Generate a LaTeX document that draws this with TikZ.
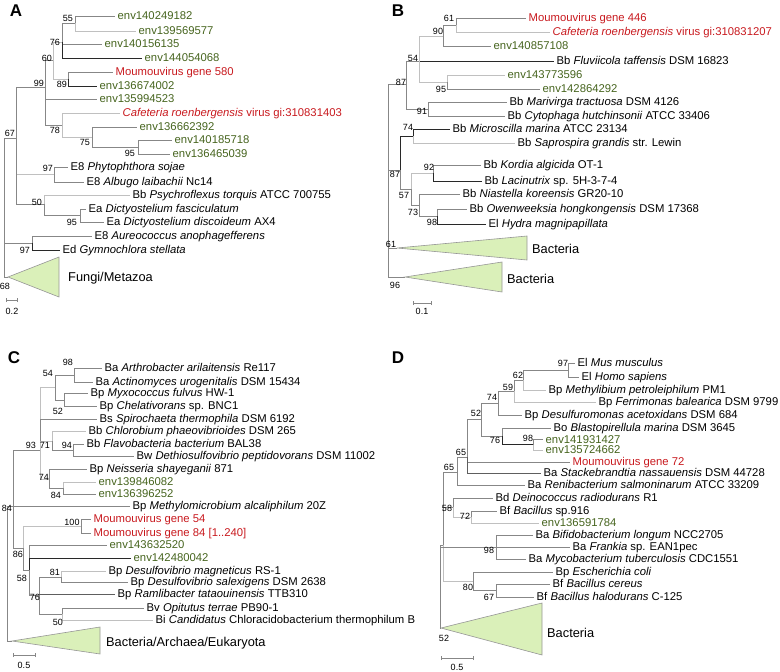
\documentclass[tikz,border=0pt]{standalone}
\usepackage{fontspec}
\setmainfont{Liberation Sans}
\definecolor{brgray}{RGB}{135,135,135}
\definecolor{brlight}{RGB}{192,192,192}
\definecolor{brdark}{RGB}{40,40,40}
\definecolor{envgreen}{RGB}{70,100,30}
\definecolor{virred}{RGB}{200,25,30}
\definecolor{cladegreen}{RGB}{218,240,185}
\definecolor{cladeedge}{RGB}{150,150,150}
\begin{document}
\begin{tikzpicture}[x=1pt,y=-1pt,
 br/.style={draw=brgray, line width=0.8pt},
 brl/.style={draw=brlight, line width=0.8pt},
 brd/.style={draw=brdark, line width=0.8pt},
 brm/.style={draw=brgray!70!black, line width=0.8pt},
 leaf/.style={anchor=west, inner xsep=2.5pt, inner ysep=0pt, text height=7.6pt, text depth=0pt, font=\fontsize{11.3}{13}\selectfont, text=black},
 envleaf/.style={leaf, text=envgreen},
 virleaf/.style={leaf, text=virred},
 bsl/.style={inner sep=0pt, text height=6.5pt, text depth=0pt, font=\fontsize{9}{10}\selectfont},
 clade/.style={fill=cladegreen, draw=cladeedge, line width=0.6pt},
 cladelbl/.style={anchor=west, inner sep=0pt, text height=9pt, text depth=0pt, font=\fontsize{12.8}{14}\selectfont},
 panel/.style={font=\fontsize{17}{20}\selectfont\bfseries, inner sep=0pt},
 scalebar/.style={draw=brgray, line width=0.7pt}]
\path[use as bounding box] (0,0) rectangle (780,672);

%================ PANEL A ================
\node[panel] (PA) at (16,11) {A};
\coordinate (A55) at (75,23);
\coordinate (A76) at (62,42);
\coordinate (A89) at (68,79);
\coordinate (A60) at (53,60);
\coordinate (A95c) at (138,147);
\coordinate (A75) at (92,137);
\coordinate (A78) at (62,125);
\coordinate (A99) at (45,87);
\coordinate (A97a) at (54,174);
\coordinate (A95b) at (80,215);
\coordinate (A50) at (44,204);
\coordinate (A67) at (16,138);
\coordinate (A97b) at (32,243);
\coordinate (Aroot) at (4,200);
\coordinate (Aap) at (8,277);
\coordinate (Atr1) at (59,257);
\coordinate (Atr2) at (59,297);

\node[envleaf] (a1) at (115,16) {env140249182};
\node[envleaf] (a2) at (136,31) {env139569577};
\node[envleaf] (a3) at (102,44) {env140156135};
\node[envleaf] (a4) at (142,58) {env144054068};
\node[virleaf] (a5) at (113,72) {Moumouvirus gene 580};
\node[envleaf] (a6) at (97,86) {env136674002};
\node[envleaf] (a7) at (97,99) {env135994523};
\node[virleaf] (a8) at (120,113) {\textit{Cafeteria roenbergensis} virus gi:310831403};
\node[envleaf] (a9) at (137,127) {env136662392};
\node[envleaf] (a10) at (172,140) {env140185718};
\node[envleaf] (a11) at (170,154) {env136465039};
\node[leaf] (a12) at (68,167) {E8 \textit{Phytophthora sojae}};
\node[leaf] (a13) at (84,182) {E8 \textit{Albugo laibachii} Nc14};
\node[leaf] (a14) at (130,195) {Bb \textit{Psychroflexus torquis} ATCC 700755};
\node[leaf] (a15) at (86,209) {Ea \textit{Dictyostelium fasciculatum}};
\node[leaf] (a16) at (104,222) {Ea \textit{Dictyostelium discoideum} AX4};
\node[leaf] (a17) at (92,236) {E8 \textit{Aureococcus anophagefferens}};
\node[leaf] (a18) at (60,250) {Ed \textit{Gymnochlora stellata}};

\draw[br] (A55) |- (a1.west);
\draw[brl] (A55) |- (a2.west);
\draw[br] (A76) |- (A55);
\draw[br] (A76) |- (a3.west);
\draw[brd] (A76) |- (a4.west);
\draw[br] (A89) |- (a5.west);
\draw[brd] (A89) |- (a6.west);
\draw[brl] (A60) |- (A76);
\draw[brl] (A60) |- (A89);
\draw[br] (A99) |- (A60);
\draw[br] (A99) |- (a7.west);
\draw[br] (A99) |- (A78);
\draw[brl] (A78) |- (a8.west);
\draw[brl] (A78) |- (A75);
\draw[br] (A75) |- (a9.west);
\draw[br] (A75) |- (A95c);
\draw[br] (A95c) |- (a10.west);
\draw[br] (A95c) |- (a11.west);
\draw[br] (A67) |- (A99);
\draw[brl] (A67) |- (A97a);
\draw[br] (A67) |- (A50);
\draw[br] (A97a) |- (a12.west);
\draw[br] (A97a) |- (a13.west);
\draw[brl] (A50) |- (a14.west);
\draw[br] (A50) |- (A95b);
\draw[br] (A95b) |- (a15.west);
\draw[br] (A95b) |- (a16.west);
\draw[br] (A97b) |- (a17.west);
\draw[brd] (A97b) |- (a18.west);
\draw[br] (Aroot) |- (A67);
\draw[br] (Aroot) |- (A97b);
\draw[br] (Aroot) |- (Aap);
\draw[clade] (Aap) -- (Atr1) -- (Atr2) -- cycle;
\node[cladelbl] (Acl) at (68,277) {Fungi/Metazoa};

\node[bsl] (bA1) at (68,18) {55};
\node[bsl] (bA2) at (55,42) {76};
\node[bsl] (bA3) at (47,58) {60};
\node[bsl] (bA4) at (62,84) {89};
\node[bsl] (bA5) at (39,83) {99};
\node[bsl] (bA6) at (55,130) {78};
\node[bsl] (bA7) at (85,142) {75};
\node[bsl] (bA8) at (130,153) {95};
\node[bsl] (bA9) at (10,133) {67};
\node[bsl] (bA10) at (48,168) {97};
\node[bsl] (bA11) at (37,202) {50};
\node[bsl] (bA12) at (72,222) {95};
\node[bsl] (bA13) at (25,250) {97};
\node[bsl] (bA14) at (5,286) {68};

\coordinate (AsL) at (6,300);
\coordinate (AsR) at (17,300);
\draw[scalebar] ([yshift=-2pt]AsL) -- ([yshift=2pt]AsL) (AsL) -- (AsR) ([yshift=-2pt]AsR) -- ([yshift=2pt]AsR);
\node[bsl] (AsT) at (12,311) {0.2};

%================ PANEL B ================
\node[panel] (PB) at (398,11) {B};
\coordinate (B61) at (456,25);
\coordinate (B90) at (443,36);
\coordinate (B95) at (447,82);
\coordinate (B54) at (419,61);
\coordinate (B91) at (428,109);
\coordinate (B87a) at (406,84);
\coordinate (B74) at (413,136);
\coordinate (B92) at (433,173);
\coordinate (B98) at (437,216);
\coordinate (B73) at (419,205);
\coordinate (B57) at (411,189);
\coordinate (B87b) at (400,170);
\coordinate (Broot) at (388,180);
\coordinate (BapA) at (397,248);
\coordinate (BtA1) at (527,236);
\coordinate (BtA2) at (527,260);
\coordinate (BapB) at (405,277);
\coordinate (BtB1) at (502,262);
\coordinate (BtB2) at (502,292);

\node[virleaf] (b1) at (526,18) {Moumouvirus gene 446};
\node[virleaf] (b2) at (550,32) {\textit{Cafeteria roenbergensis} virus gi:310831207};
\node[envleaf] (b3) at (491,46) {env140857108};
\node[leaf] (b4) at (554,61) {Bb \textit{Fluviicola taffensis} DSM 16823};
\node[envleaf] (b5) at (505,75) {env143773596};
\node[envleaf] (b6) at (540,89) {env142864292};
\node[leaf] (b7) at (507,102) {Bb \textit{Marivirga tractuosa} DSM 4126};
\node[leaf] (b8) at (505,116) {Bb \textit{Cytophaga hutchinsonii} ATCC 33406};
\node[leaf] (b9) at (450,129) {Bb \textit{Microscilla marina} ATCC 23134};
\node[leaf] (b10) at (515,143) {Bb \textit{Saprospira grandis} str. Lewin};
\node[leaf] (b11) at (481,165) {Bb \textit{Kordia algicida} OT-1};
\node[leaf] (b12) at (482,181) {Bb \textit{Lacinutrix} sp. 5H-3-7-4};
\node[leaf] (b13) at (460,194) {Bb \textit{Niastella koreensis} GR20-10};
\node[leaf] (b14) at (467,209) {Bb \textit{Owenweeksia hongkongensis} DSM 17368};
\node[leaf] (b15) at (486,224) {El \textit{Hydra magnipapillata}};

\draw[br] (B61) |- (b1.west);
\draw[brl] (B61) |- (b2.west);
\draw[br] (B90) |- (B61);
\draw[br] (B90) |- (b3.west);
\draw[brl] (B54) |- (B90);
\draw[brd] (B54) |- (b4.west);
\draw[brl] (B54) |- (B95);
\draw[brl] (B95) |- (b5.west);
\draw[br] (B95) |- (b6.west);
\draw[br] (B87a) |- (B54);
\draw[br] (B87a) |- (B91);
\draw[br] (B91) |- (b7.west);
\draw[br] (B91) |- (b8.west);
\draw[brd] (B74) |- (b9.west);
\draw[brl] (B74) |- (b10.west);
\draw[br] (B92) |- (b11.west);
\draw[brd] (B92) |- (b12.west);
\draw[br] (B73) |- (b13.west);
\draw[br] (B73) |- (B98);
\draw[br] (B98) |- (b14.west);
\draw[brd] (B98) |- (b15.west);
\draw[brl] (B57) |- (B92);
\draw[br] (B57) |- (B73);
\draw[brd] (B87b) |- (B74);
\draw[br] (B87b) |- (B57);
\draw[br] (Broot) |- (B87a);
\draw[br] (Broot) |- (B87b);
\draw[br] (Broot) |- (BapA);
\draw[br] (Broot) |- (BapB);
\draw[clade] (BapA) -- (BtA1) -- (BtA2) -- cycle;
\draw[clade] (BapB) -- (BtB1) -- (BtB2) -- cycle;
\node[cladelbl] (Bcl1) at (532,249) {Bacteria};
\node[cladelbl] (Bcl2) at (507,279) {Bacteria};

\node[bsl] (bB1) at (449,18) {61};
\node[bsl] (bB2) at (438,31) {90};
\node[bsl] (bB3) at (413,58) {54};
\node[bsl] (bB4) at (441,89) {95};
\node[bsl] (bB5) at (401,82) {87};
\node[bsl] (bB6) at (422,111) {91};
\node[bsl] (bB7) at (408,127) {74};
\node[bsl] (bB8) at (429,167) {92};
\node[bsl] (bB9) at (395,174) {87};
\node[bsl] (bB10) at (404,195) {57};
\node[bsl] (bB11) at (413,212) {73};
\node[bsl] (bB12) at (432,222) {98};
\node[bsl] (bB13) at (391,244) {61};
\node[bsl] (bB14) at (395,285) {96};

\coordinate (BsL) at (413,303);
\coordinate (BsR) at (431,303);
\draw[scalebar] ([yshift=-2pt]BsL) -- ([yshift=2pt]BsL) (BsL) -- (BsR) ([yshift=-2pt]BsR) -- ([yshift=2pt]BsR);
\node[bsl] (BsT) at (422,311) {0.1};

%================ PANEL C ================
\node[panel] (PC) at (14,358) {C};
\coordinate (C98) at (74,375);
\coordinate (C52) at (64,400);
\coordinate (C54) at (55,387);
\coordinate (C94) at (73,450);
\coordinate (C71) at (52,441);
\coordinate (C84b) at (63,488);
\coordinate (C74) at (49,479);
\coordinate (C93) at (40,450);
\coordinate (C100) at (81,526);
\coordinate (C81) at (61,577);
\coordinate (C50) at (62,614);
\coordinate (C76) at (39,595);
\coordinate (C58) at (29,570);
\coordinate (C86) at (23,548);
\coordinate (C84) at (13,506);
\coordinate (Croot) at (7,560);
\coordinate (Cap) at (12,641);
\coordinate (Ctr1) at (100,627);
\coordinate (Ctr2) at (100,654);

\node[leaf] (c1) at (102,368) {Ba \textit{Arthrobacter arilaitensis} Re117};
\node[leaf] (c2) at (93,382) {Ba \textit{Actinomyces urogenitalis} DSM 15434};
\node[leaf] (c3) at (88,393) {Bp \textit{Myxococcus fulvus} HW-1};
\node[leaf] (c4) at (97,406) {Bp \textit{Chelativorans} sp. BNC1};
\node[leaf] (c5) at (97,419) {Bs \textit{Spirochaeta thermophila} DSM 6192};
\node[leaf] (c6) at (86,431) {Bb \textit{Chlorobium phaeovibrioides} DSM 265};
\node[leaf] (c7) at (84,444) {Bb \textit{Flavobacteria bacterium} BAL38};
\node[leaf] (c8) at (134,456) {Bw \textit{Dethiosulfovibrio peptidovorans} DSM 11002};
\node[leaf] (c9) at (87,469) {Bp \textit{Neisseria shayeganii} 871};
\node[envleaf] (c10) at (96,482) {env139846082};
\node[envleaf] (c11) at (96,494) {env136396252};
\node[leaf] (c12) at (130,506) {Bp \textit{Methylomicrobium alcaliphilum} 20Z};
\node[virleaf] (c13) at (91,519) {Moumouvirus gene 54};
\node[virleaf] (c14) at (91,533) {Moumouvirus gene 84 [1..240]};
\node[envleaf] (c15) at (107,545) {env143632520};
\node[envleaf] (c16) at (131,558) {env142480042};
\node[leaf] (c17) at (106,571) {Bp \textit{Desulfovibrio magneticus} RS-1};
\node[leaf] (c18) at (128,582) {Bp \textit{Desulfovibrio salexigens} DSM 2638};
\node[leaf] (c19) at (115,594) {Bp \textit{Ramlibacter tataouinensis} TTB310};
\node[leaf] (c20) at (144,608) {Bv \textit{Opitutus terrae} PB90-1};
\node[leaf] (c21) at (153,620) {Bi \textit{Candidatus} Chloracidobacterium thermophilum B};

\draw[br] (C98) |- (c1.west);
\draw[br] (C98) |- (c2.west);
\draw[br] (C52) |- (c3.west);
\draw[br] (C52) |- (c4.west);
\draw[br] (C54) |- (C98);
\draw[br] (C54) |- (C52);
\draw[brl] (C93) |- (C54);
\draw[br] (C93) |- (c5.west);
\draw[brl] (C93) |- (C71);
\draw[brl] (C93) |- (C74);
\draw[brl] (C71) |- (c6.west);
\draw[br] (C71) |- (C94);
\draw[br] (C94) |- (c7.west);
\draw[br] (C94) |- (c8.west);
\draw[br] (C74) |- (c9.west);
\draw[br] (C74) |- (C84b);
\draw[brl] (C84b) |- (c10.west);
\draw[br] (C84b) |- (c11.west);
\draw[br] (C84) |- (C93);
\draw[br] (C84) |- (c12.west);
\draw[br] (C84) |- (C86);
\draw[br] (C100) |- (c13.west);
\draw[br] (C100) |- (c14.west);
\draw[brl] (C86) |- (C100);
\draw[br] (C86) |- (C58);
\draw[br] (C58) |- (c15.west);
\draw[brd] (C58) |- (c16.west);
\draw[br] (C58) |- (C76);
\draw[brl] (C81) |- (c17.west);
\draw[br] (C81) |- (c18.west);
\draw[br] (C76) |- (C81);
\draw[brm] (C76) |- (c19.west);
\draw[br] (C76) |- (C50);
\draw[br] (C50) |- (c20.west);
\draw[brl] (C50) |- (c21.west);
\draw[br] (Croot) |- (C84);
\draw[br] (Croot) |- (Cap);
\draw[clade] (Cap) -- (Ctr1) -- (Ctr2) -- cycle;
\node[cladelbl] (Ccl) at (106,642) {Bacteria/Archaea/Eukaryota};

\node[bsl] (bC1) at (68,362) {98};
\node[bsl] (bC2) at (48,373) {54};
\node[bsl] (bC3) at (58,411) {52};
\node[bsl] (bC4) at (31,445) {93};
\node[bsl] (bC5) at (45,445) {71};
\node[bsl] (bC6) at (67,445) {94};
\node[bsl] (bC7) at (44,477) {74};
\node[bsl] (bC8) at (56,495) {84};
\node[bsl] (bC9) at (7,508) {84};
\node[bsl] (bC10) at (72,522) {100};
\node[bsl] (bC11) at (18,554) {86};
\node[bsl] (bC12) at (22,578) {58};
\node[bsl] (bC13) at (55,572) {81};
\node[bsl] (bC14) at (35,597) {76};
\node[bsl] (bC15) at (58,622) {50};

\coordinate (CsL) at (13,655);
\coordinate (CsR) at (35,655);
\draw[scalebar] ([yshift=-2pt]CsL) -- ([yshift=2pt]CsL) (CsL) -- (CsR) ([yshift=-2pt]CsR) -- ([yshift=2pt]CsR);
\node[bsl] (CsT) at (24,665) {0.5};

%================ PANEL D ================
\node[panel] (PD) at (398,358) {D};
\coordinate (D97) at (568,370);
\coordinate (D62) at (523,380);
\coordinate (D59) at (514,391);
\coordinate (D74) at (498,403);
\coordinate (D98) at (533,444.5);
\coordinate (D76) at (502,436);
\coordinate (D52) at (481,419);
\coordinate (D65a) at (467,457);
\coordinate (D65b) at (457,472);
\coordinate (D72) at (471,517);
\coordinate (D58) at (453,507);
\coordinate (D98b) at (496,547);
\coordinate (D67) at (496,590.5);
\coordinate (D80) at (473,581);
\coordinate (DX) at (443,545);
\coordinate (Droot) at (440,590);
\coordinate (Dap) at (441,628);
\coordinate (Dtr1) at (542,603);
\coordinate (Dtr2) at (542,655);

\node[leaf] (d1) at (575,363) {El \textit{Mus musculus}};
\node[leaf] (d2) at (579,377) {El \textit{Homo sapiens}};
\node[leaf] (d3) at (546,390) {Bp \textit{Methylibium petroleiphilum} PM1};
\node[leaf] (d4) at (596,402) {Bp \textit{Ferrimonas balearica} DSM 9799};
\node[leaf] (d5) at (522,415) {Bp \textit{Desulfuromonas acetoxidans} DSM 684};
\node[leaf] (d6) at (551,428) {Bo \textit{Blastopirellula marina} DSM 3645};
\node[envleaf] (d7) at (543,439.5) {env141931427};
\node[envleaf] (d8) at (543,450) {env135724662};
\node[virleaf] (d9) at (570,462) {Moumouvirus gene 72};
\node[leaf] (d10) at (541,473) {Ba \textit{Stackebrandtia nassauensis} DSM 44728};
\node[leaf] (d11) at (525,485) {Ba \textit{Renibacterium salmoninarum} ATCC 33209};
\node[leaf] (d12) at (493,498) {Bd \textit{Deinococcus radiodurans} R1};
\node[leaf] (d13) at (497,511) {Bf \textit{Bacillus} sp.916};
\node[envleaf] (d14) at (539,523) {env136591784};
\node[leaf] (d15) at (533,535) {Ba \textit{Bifidobacterium longum} NCC2705};
\node[leaf] (d16) at (570,547) {Ba \textit{Frankia} sp. EAN1pec};
\node[leaf] (d17) at (526,559) {Ba \textit{Mycobacterium tuberculosis} CDC1551};
\node[leaf] (d18) at (553,572) {Bp \textit{Escherichia coli}};
\node[leaf] (d19) at (550,584) {Bf \textit{Bacillus cereus}};
\node[leaf] (d20) at (534,597) {Bf \textit{Bacillus halodurans} C-125};

\draw[br] (D97) |- (d1.west);
\draw[br] (D97) |- (d2.west);
\draw[br] (D62) |- (D97);
\draw[brl] (D62) |- (d3.west);
\draw[br] (D59) |- (D62);
\draw[brl] (D59) |- (d4.west);
\draw[br] (D74) |- (D59);
\draw[br] (D74) |- (d5.west);
\draw[br] (D76) |- (d6.west);
\draw[brd] (D76) |- (D98);
\draw[br] (D98) |- (d7.west);
\draw[brl] (D98) |- (d8.west);
\draw[br] (D52) |- (D74);
\draw[br] (D52) |- (D76);
\draw[br] (D65a) |- (D52);
\draw[br] (D65a) |- (d9.west);
\draw[brm] (D65a) |- (d10.west);
\draw[br] (D65b) |- (D65a);
\draw[br] (D65b) |- (d11.west);
\draw[br] (D58) |- (d12.west);
\draw[brl] (D58) |- (D72);
\draw[br] (D72) |- (d13.west);
\draw[brl] (D72) |- (d14.west);
\draw[br] (D98b) |- (d15.west);
\draw[br] (D98b) |- (d16.west);
\draw[br] (D98b) |- (d17.west);
\draw[br] (D80) |- (d18.west);
\draw[br] (D80) |- (D67);
\draw[br] (D67) |- (d19.west);
\draw[br] (D67) |- (d20.west);
\draw[br] (DX) |- (D65b);
\draw[br] (DX) |- (D58);
\draw[brl] (DX) |- (D80);
\draw[br] (Droot) |- (DX);
\draw[br] (Droot) |- (D98b);
\draw[br] (Droot) |- (Dap);
\draw[clade] (Dap) -- (Dtr1) -- (Dtr2) -- cycle;
\node[cladelbl] (Dcl) at (547,633) {Bacteria};

\node[bsl] (bD1) at (563,363) {97};
\node[bsl] (bD2) at (518,375) {62};
\node[bsl] (bD3) at (508,387) {59};
\node[bsl] (bD4) at (492,397) {74};
\node[bsl] (bD5) at (476,413) {52};
\node[bsl] (bD6) at (528,438) {98};
\node[bsl] (bD7) at (495,440) {76};
\node[bsl] (bD8) at (461,452) {65};
\node[bsl] (bD9) at (449,467) {65};
\node[bsl] (bD10) at (447,508) {58};
\node[bsl] (bD11) at (465,516) {72};
\node[bsl] (bD12) at (489,550) {98};
\node[bsl] (bD13) at (468,587) {80};
\node[bsl] (bD14) at (489,597) {67};
\node[bsl] (bD15) at (444,638) {52};

\coordinate (DsL) at (441,658);
\coordinate (DsR) at (473,658);
\draw[scalebar] ([yshift=-2pt]DsL) -- ([yshift=2pt]DsL) (DsL) -- (DsR) ([yshift=-2pt]DsR) -- ([yshift=2pt]DsR);
\node[bsl] (DsT) at (457,667) {0.5};
\end{tikzpicture}
\end{document}
